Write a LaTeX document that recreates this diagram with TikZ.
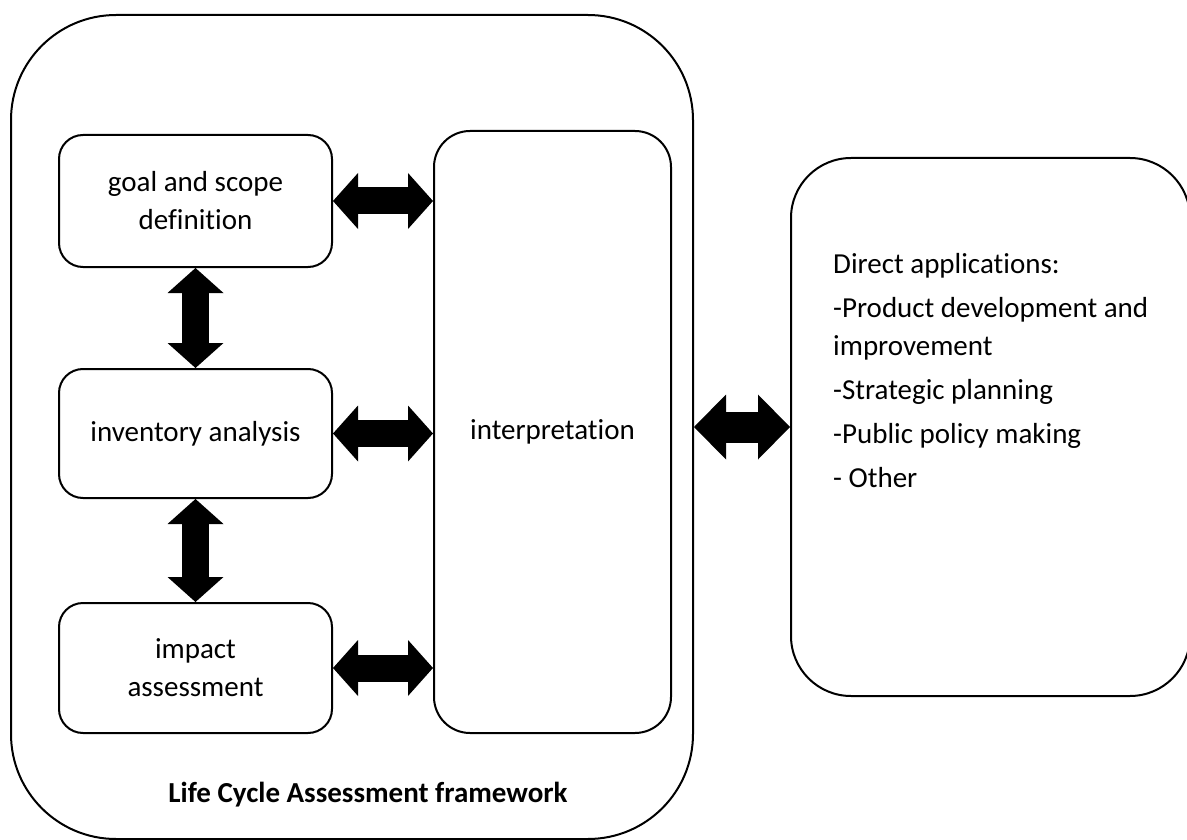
\documentclass[tikz,border=0pt]{standalone}
\usepackage{fontspec}
\setmainfont{Carlito}[Ligatures=NoCommon]
\usetikzlibrary{arrows.meta}

\tikzset{
  x=1pt, y=-1pt,
  box/.style={draw, line width=2pt, rectangle, inner sep=0pt},
  bodyfont/.style={font=\fontsize{29}{38}\selectfont},
  stagebox/.style={box, rounded corners=24pt, minimum width=273pt, align=center, bodyfont},
  tipsmall/.tip={Triangle[length=25pt, width=56pt, line width=0pt]},
  tipbig/.tip={Triangle[length=32pt, width=65pt, line width=0pt]},
  dbl/.style={line width=27pt, tipsmall-tipsmall},
  bigdbl/.style={line width=31pt, tipbig-tipbig},
}

\begin{document}
\begin{tikzpicture}
\useasboundingbox (0,0) rectangle (1187,840);

% outer framework container
\node[box, rounded corners=105pt, minimum width=682pt, minimum height=824pt] (frame) at (352,427) {};
\node[font=\fontsize{29}{35}\selectfont\bfseries] (title) at (368,795) {Life Cycle Assessment framework};

% LCA stages
\node[stagebox, minimum height=132pt] (goal) at (195.5,201) {goal and scope\\definition};
\node[stagebox, minimum height=129pt] (inv) at (195.5,433.5) {inventory analysis};
\node[stagebox, minimum height=130pt] (imp) at (195.5,668) {impact\\assessment};
\node[box, rounded corners=36pt, minimum width=237pt, minimum height=602pt, bodyfont]
  (interp) at (552.5,432) {interpretation};

% applications box
\node[box, rounded corners=60pt, minimum width=399pt, minimum height=538pt] (apps) at (990.5,427) {};
\node[anchor=north west, align=left, inner sep=0pt, bodyfont] (applist) at (833,253)
  {Direct applications:\\[6pt]
   -Product development and\\
   improvement\\[6pt]
   -Strategic planning\\[6pt]
   -Public policy making\\[6pt]
   - Other};

% double-headed connectors
\draw[dbl] (goal.east) -- (goal.east -| interp.west);
\draw[dbl] (inv.east) -- (inv.east -| interp.west);
\draw[dbl] (imp.east) -- (imp.east -| interp.west);
\draw[dbl] (goal.south) -- (inv.north);
\draw[dbl] (inv.south) -- (imp.north);
\draw[bigdbl] (frame.east) -- (frame.east -| apps.west);
\end{tikzpicture}
\end{document}
